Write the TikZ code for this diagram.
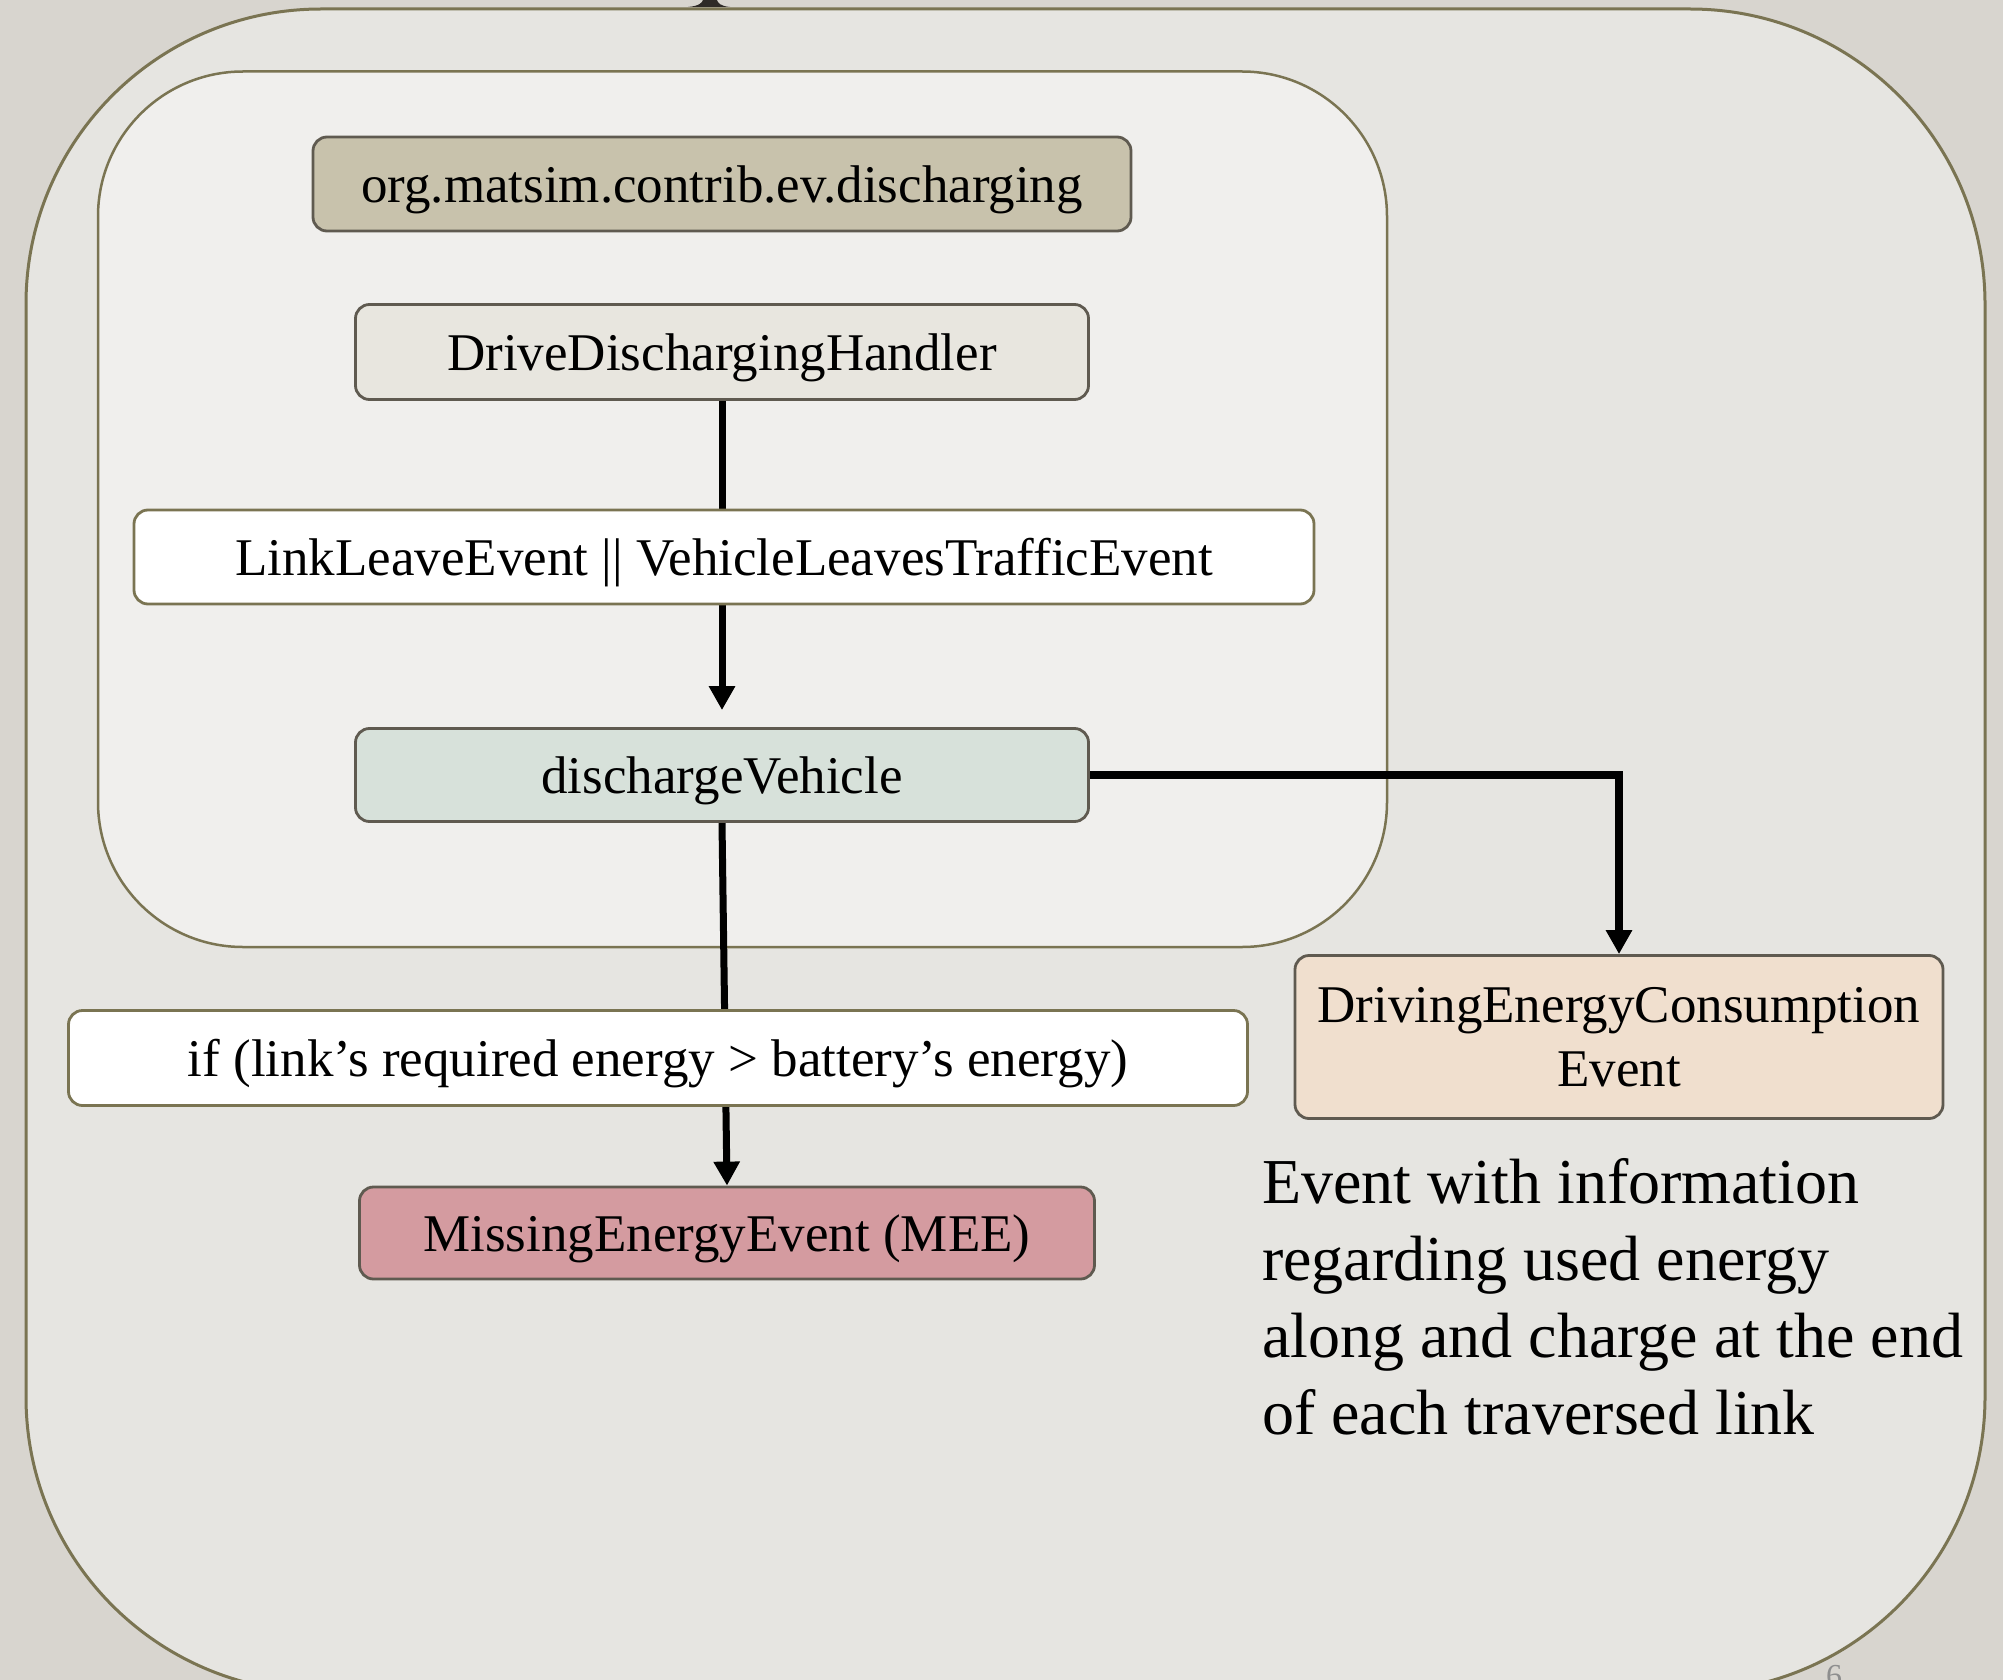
\documentclass[tikz,border=0pt]{standalone}
\usepackage{fontspec}
\setmainfont{Liberation Serif}
\usetikzlibrary{arrows.meta}

\definecolor{slidebg}{HTML}{D8D5CF}
\definecolor{outerfill}{HTML}{E6E5E1}
\definecolor{innerfill}{HTML}{F0EFED}
\definecolor{frameline}{HTML}{7A7452}
\definecolor{boxline}{HTML}{5F5A50}
\definecolor{pkgfill}{HTML}{C8C2AC}
\definecolor{handlerfill}{HTML}{E8E6DF}
\definecolor{dischargefill}{HTML}{D7E1DA}
\definecolor{meefill}{HTML}{D49BA0}
\definecolor{decfill}{HTML}{F0DFCE}
\definecolor{pagegray}{HTML}{8E8E8E}
\definecolor{tipdark}{HTML}{2E2A27}

\pgfdeclarelayer{frames}
\pgfdeclarelayer{links}
\pgfsetlayers{frames,links,main}

\begin{document}
\begin{tikzpicture}[x=1pt, y=-1pt,
  boxbase/.style={rounded corners=14pt, draw=boxline, line width=2.8pt,
    inner sep=0pt, font=\fontsize{53}{64}\selectfont},
  oneline/.style={boxbase, text height=48pt, text depth=11pt},
  whitebox/.style={oneline, fill=white, draw=frameline},
  link/.style={line width=7pt, draw=black, -{Triangle[length=24pt,width=25pt]}}
]
\useasboundingbox (0,0) rectangle (2003,1680);

\begin{pgfonlayer}{frames}
  \fill[slidebg] (0,0) rectangle (2003,1680);
  % end of the connector coming in from above
  \fill[tipdark] (688,7) .. controls (699,6) and (702,3) .. (703,0)
    -- (717,0) .. controls (718,3) and (720,6) .. (730,7) -- cycle;
  % outer and inner frames
  \draw[fill=outerfill, draw=frameline, line width=3pt, rounded corners=295pt]
    (26,9) rectangle (1985,1692);
  \draw[fill=innerfill, draw=frameline, line width=2.5pt, rounded corners=145pt]
    (98,71.5) rectangle (1387,947);
\end{pgfonlayer}

% boxes
\node[oneline, fill=pkgfill, minimum width=818pt, minimum height=94pt] (pkg) at (722,184)
  {org.matsim.contrib.ev.discharging};
\node[oneline, fill=handlerfill, minimum width=733pt, minimum height=95pt] (handler) at (722,352)
  {DriveDischargingHandler};
\node[whitebox, minimum width=1180pt, minimum height=94pt] (trigger) at (724,557)
  {LinkLeaveEvent || VehicleLeavesTrafficEvent};
\node[oneline, fill=dischargefill, minimum width=733pt, minimum height=93pt] (discharge) at (722,775)
  {dischargeVehicle};
\node[whitebox, minimum width=1179pt, minimum height=95pt] (cond) at (658,1058)
  {if (link’s required energy > battery’s energy)};
\node[oneline, fill=meefill, minimum width=735pt, minimum height=92pt] (mee) at (727,1233)
  {MissingEnergyEvent (MEE)};
\node[boxbase, fill=decfill, align=center, minimum width=648pt, minimum height=163pt] (dec) at (1619,1037)
  {DrivingEnergyConsumption\\Event};

% description of the consumption event
\node[anchor=north west, align=left, inner sep=0pt, font=\fontsize{64}{77}\selectfont] (note) at (1262,1158)
  {Event with information\\regarding used energy\\along and charge at the end\\of each traversed link};

% slide number
\node[anchor=base, inner sep=0pt, text=pagegray, font=\fontsize{32}{38}\selectfont] (pagenum) at (1834,1686) {6};

% connectors
\begin{pgfonlayer}{links}
  \draw[link, shorten >=17pt] (handler.south) -- (discharge.north);
  \draw[link] (discharge.south) -- (mee.north);
  \draw[link, line width=8.5pt] (discharge.east) -| (dec.north);
\end{pgfonlayer}
\end{tikzpicture}
\end{document}
